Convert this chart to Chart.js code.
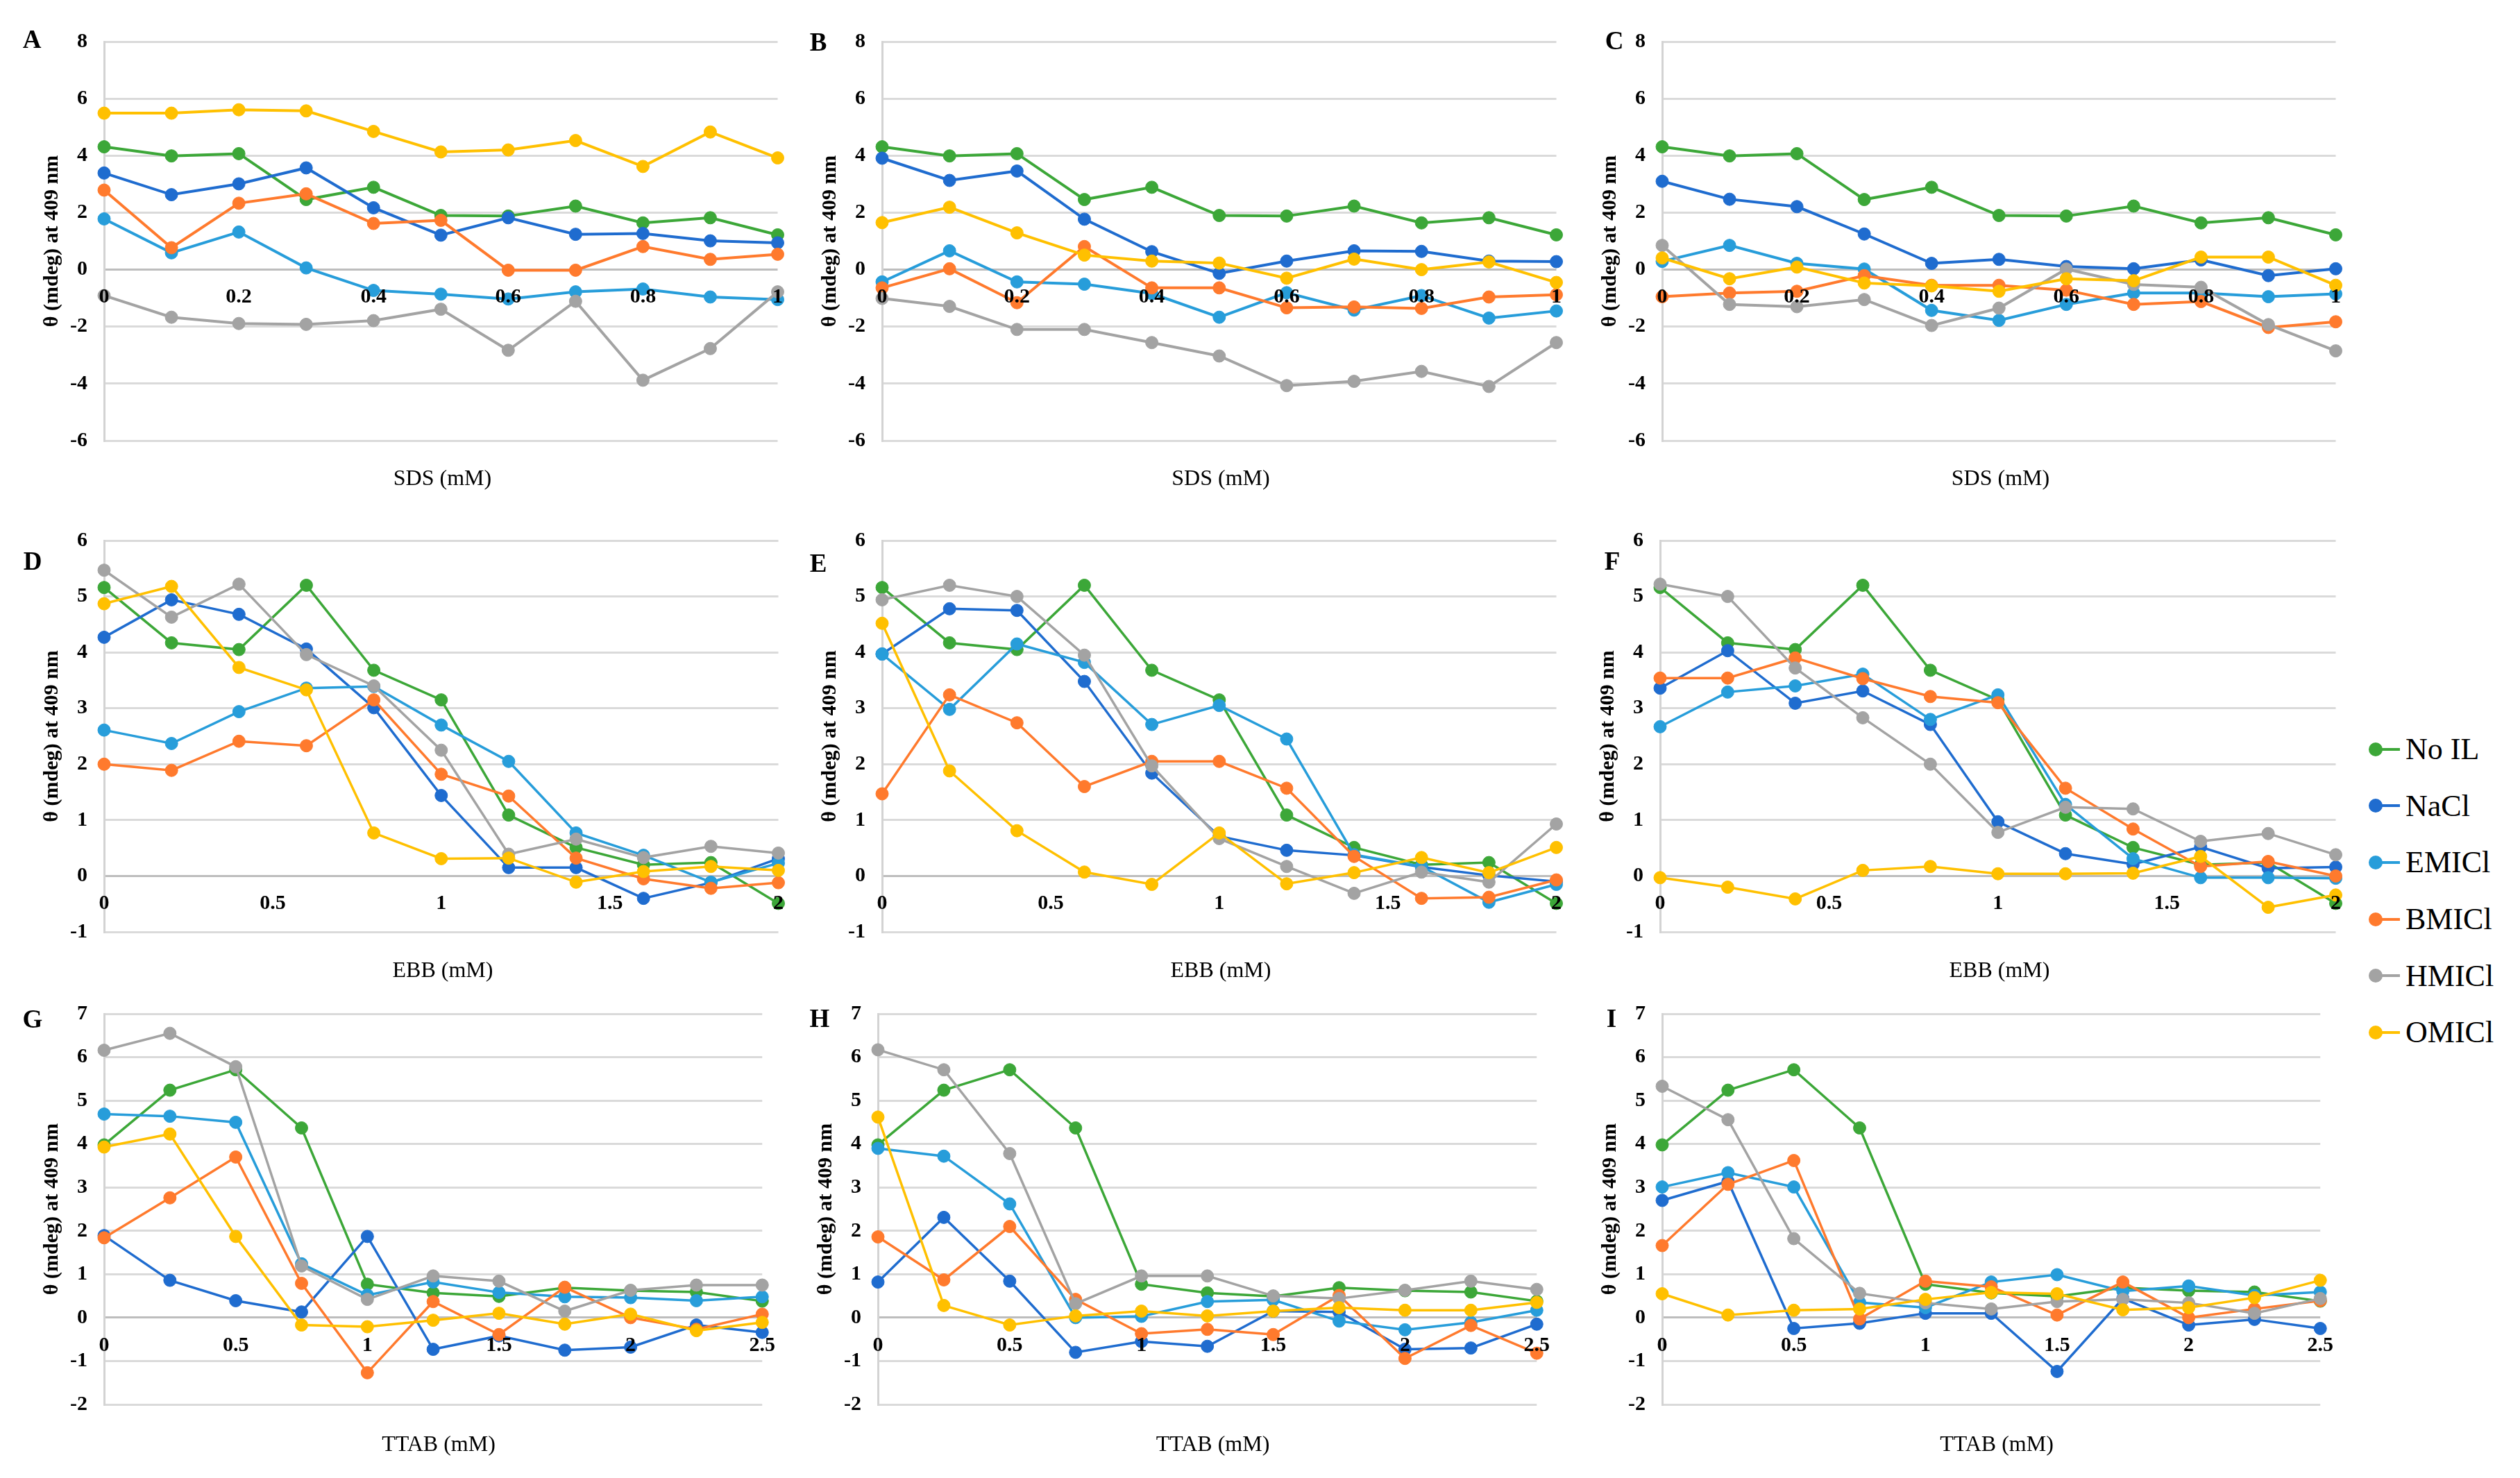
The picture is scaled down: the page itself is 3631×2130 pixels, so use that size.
<!DOCTYPE html>
<html>
<head>
<meta charset="utf-8">
<script src="https://cdn.jsdelivr.net/npm/chart.js@4.4.1/dist/chart.umd.min.js"></script>
<style>
  body { margin: 0; width: 3631px; height: 2130px; background: #fff; position: relative; overflow: hidden;
         font-family: "Liberation Serif", "Times New Roman", serif; color: #000; }
  .panel { position: absolute; }
  .letter { position: absolute; font-size: 37px; font-weight: bold; line-height: 1; transform: translate(-50%, -50%); }
  .xtitle { position: absolute; font-size: 32px; line-height: 1; white-space: nowrap; transform: translate(-50%, -50%); }
  #legend { position: absolute; left: 3413px; top: 1039px; }
  .item { height: 81.6px; display: flex; align-items: center; font-size: 44px; }
  .sym { position: relative; width: 46px; height: 20px; margin-right: 7px; }
  .sym .ln { position: absolute; left: 10px; top: 8px; width: 35px; height: 4px; }
  .sym .dot { position: absolute; left: 0; top: 0; width: 20px; height: 20px; border-radius: 50%; }
</style>
</head>
<body>
<div id="legend"></div>
<script>
// concentrations (x values)
const sdsConc = [0, 0.1, 0.2, 0.3, 0.4, 0.5, 0.6, 0.7, 0.8, 0.9, 1];
const ebbConc = [0, 0.2, 0.4, 0.6, 0.8, 1, 1.2, 1.4, 1.6, 1.8, 2];
const ttabConc = [0, 0.25, 0.5, 0.75, 1, 1.25, 1.5, 1.75, 2, 2.25, 2.5];

const seriesNames = ["No IL", "NaCl", "EMICl", "BMICl", "HMICl", "OMICl"];
const seriesColors = ["#3CA738", "#1F6CCF", "#279DDA", "#FF7A2D", "#A3A3A3", "#FFC000"];

// control without additive, same in every panel of a row
const noIL_SDS = [4.31, 3.99, 4.07, 2.46, 2.89, 1.9, 1.88, 2.23, 1.64, 1.82, 1.22];
const noIL_EBB = [5.16, 4.17, 4.05, 5.2, 3.68, 3.15, 1.09, 0.51, 0.2, 0.24, -0.49];
const noIL_TTAB = [3.98, 5.24, 5.71, 4.37, 0.77, 0.57, 0.49, 0.69, 0.62, 0.59, 0.38];

// order in each panel: No IL, NaCl, EMICl, BMICl, HMICl, OMICl
const panelA = [
  noIL_SDS,
  [3.39, 2.63, 3.01, 3.57, 2.17, 1.21, 1.82, 1.24, 1.27, 1.01, 0.94],
  [1.78, 0.59, 1.32, 0.06, -0.73, -0.86, -1.03, -0.78, -0.68, -0.96, -1.05],
  [2.79, 0.77, 2.33, 2.66, 1.62, 1.73, -0.02, -0.02, 0.81, 0.36, 0.54],
  [-0.91, -1.67, -1.89, -1.92, -1.79, -1.39, -2.83, -1.11, -3.88, -2.77, -0.78],
  [5.49, 5.49, 5.61, 5.57, 4.85, 4.13, 4.2, 4.53, 3.62, 4.83, 3.92]
];
const panelB = [
  noIL_SDS,
  [3.91, 3.13, 3.46, 1.77, 0.63, -0.13, 0.3, 0.66, 0.64, 0.3, 0.28],
  [-0.43, 0.66, -0.43, -0.51, -0.84, -1.67, -0.81, -1.42, -0.91, -1.7, -1.45],
  [-0.64, 0.03, -1.16, 0.81, -0.64, -0.64, -1.34, -1.31, -1.36, -0.96, -0.88],
  [-1.01, -1.29, -2.1, -2.1, -2.56, -3.03, -4.07, -3.92, -3.57, -4.1, -2.56],
  [1.65, 2.19, 1.29, 0.51, 0.3, 0.23, -0.3, 0.37, 0, 0.27, -0.45]
];
const panelC = [
  noIL_SDS,
  [3.1, 2.47, 2.21, 1.25, 0.22, 0.36, 0.11, 0.03, 0.34, -0.21, 0.03],
  [0.29, 0.85, 0.22, 0.02, -1.43, -1.78, -1.22, -0.82, -0.82, -0.95, -0.85],
  [-0.95, -0.82, -0.76, -0.21, -0.55, -0.55, -0.72, -1.22, -1.12, -2.03, -1.83],
  [0.85, -1.22, -1.3, -1.05, -1.96, -1.35, 0.02, -0.52, -0.62, -1.93, -2.85],
  [0.41, -0.32, 0.09, -0.47, -0.57, -0.76, -0.32, -0.39, 0.44, 0.44, -0.55]
];
const panelD = [
  noIL_EBB,
  [4.27, 4.94, 4.68, 4.06, 3.01, 1.44, 0.15, 0.15, -0.4, -0.12, 0.31],
  [2.61, 2.37, 2.94, 3.36, 3.39, 2.7, 2.05, 0.77, 0.37, -0.11, 0.23],
  [2.0, 1.89, 2.41, 2.33, 3.15, 1.82, 1.43, 0.32, -0.05, -0.22, -0.12],
  [5.47, 4.63, 5.22, 3.96, 3.4, 2.25, 0.39, 0.66, 0.33, 0.53, 0.41],
  [4.87, 5.18, 3.73, 3.33, 0.77, 0.31, 0.32, -0.11, 0.08, 0.17, 0.1]
];
const panelE = [
  noIL_EBB,
  [3.97, 4.78, 4.75, 3.48, 1.84, 0.71, 0.46, 0.37, 0.16, 0.01, -0.1],
  [3.97, 2.98, 4.15, 3.82, 2.71, 3.05, 2.45, 0.38, 0.17, -0.47, -0.15],
  [1.47, 3.24, 2.74, 1.6, 2.05, 2.05, 1.57, 0.35, -0.4, -0.38, -0.07],
  [4.94, 5.2, 5.0, 3.95, 1.97, 0.67, 0.17, -0.31, 0.07, -0.11, 0.93],
  [4.52, 1.88, 0.81, 0.07, -0.15, 0.77, -0.14, 0.06, 0.33, 0.06, 0.51]
];
const panelF = [
  noIL_EBB,
  [3.36, 4.03, 3.09, 3.31, 2.71, 0.97, 0.4, 0.21, 0.52, 0.14, 0.16],
  [2.67, 3.29, 3.4, 3.61, 2.8, 3.24, 1.28, 0.31, -0.03, -0.03, -0.04],
  [3.54, 3.54, 3.9, 3.53, 3.21, 3.1, 1.57, 0.84, 0.17, 0.26, 0.0],
  [5.22, 5.0, 3.72, 2.83, 2.0, 0.78, 1.23, 1.2, 0.62, 0.76, 0.38],
  [-0.03, -0.2, -0.41, 0.1, 0.17, 0.04, 0.04, 0.05, 0.35, -0.56, -0.34]
];
const panelG = [
  noIL_TTAB,
  [1.89, 0.86, 0.39, 0.13, 1.87, -0.73, -0.42, -0.75, -0.68, -0.17, -0.34],
  [4.69, 4.64, 4.5, 1.24, 0.52, 0.82, 0.58, 0.48, 0.46, 0.39, 0.48],
  [1.84, 2.76, 3.7, 0.79, -1.27, 0.37, -0.39, 0.7, 0, -0.27, 0.08],
  [6.16, 6.55, 5.78, 1.19, 0.42, 0.96, 0.84, 0.15, 0.63, 0.75, 0.75],
  [3.93, 4.23, 1.87, -0.17, -0.21, -0.06, 0.1, -0.15, 0.08, -0.3, -0.11]
];
const panelH = [
  noIL_TTAB,
  [0.82, 2.31, 0.84, -0.8, -0.55, -0.66, 0.15, 0.13, -0.73, -0.7, -0.15],
  [3.9, 3.72, 2.62, 0, 0.03, 0.37, 0.41, -0.08, -0.28, -0.11, 0.17],
  [1.86, 0.87, 2.1, 0.42, -0.37, -0.27, -0.39, 0.51, -0.94, -0.18, -0.82],
  [6.17, 5.71, 3.78, 0.32, 0.96, 0.96, 0.5, 0.44, 0.63, 0.84, 0.65],
  [4.62, 0.28, -0.17, 0.04, 0.15, 0.04, 0.15, 0.23, 0.17, 0.17, 0.35]
];
const panelI = [
  noIL_TTAB,
  [2.7, 3.14, -0.25, -0.13, 0.1, 0.1, -1.24, 0.44, -0.17, -0.04, -0.25],
  [3.01, 3.34, 3.01, 0.35, 0.23, 0.82, 0.99, 0.61, 0.73, 0.51, 0.59],
  [1.66, 3.07, 3.62, -0.03, 0.84, 0.71, 0.06, 0.82, 0, 0.2, 0.39],
  [5.33, 4.56, 1.82, 0.56, 0.34, 0.2, 0.37, 0.42, 0.34, 0.1, 0.44],
  [0.55, 0.06, 0.17, 0.2, 0.42, 0.58, 0.55, 0.18, 0.23, 0.46, 0.86]
];

// layout of the three rows (pixels on the page)
const rows = [
  { top: 43, bottom: 662, left: [150, 1271, 2395], right: [1125, 2247, 3370],
    yMin: -6, yMax: 8, yStep: 2, xMax: 1, xStep: 0.2, lw: 4, titleY: 688 },
  { top: 762, bottom: 1370, left: [150, 1271, 2392], right: [1126, 2247, 3370],
    yMin: -1, yMax: 6, yStep: 1, xMax: 2, xStep: 0.5, lw: 3.5, titleY: 1397 },
  { top: 1444, bottom: 2051, left: [150, 1265, 2395], right: [1114, 2230, 3359],
    yMin: -2, yMax: 7, yStep: 1, xMax: 2.5, xStep: 0.5, lw: 3.5, titleY: 2080 }
];
const letterPos = [[46, 56], [1179, 60], [2326, 58], [47, 808], [1179, 811], [2323, 808], [47, 1468], [1181, 1467], [2322, 1467]];

const panels = [
  { letter: "A", row: 0, col: 0, conc: sdsConc, ys: panelA, xTitle: "SDS (mM)" },
  { letter: "B", row: 0, col: 1, conc: sdsConc, ys: panelB, xTitle: "SDS (mM)" },
  { letter: "C", row: 0, col: 2, conc: sdsConc, ys: panelC, xTitle: "SDS (mM)" },
  { letter: "D", row: 1, col: 0, conc: ebbConc, ys: panelD, xTitle: "EBB (mM)" },
  { letter: "E", row: 1, col: 1, conc: ebbConc, ys: panelE, xTitle: "EBB (mM)" },
  { letter: "F", row: 1, col: 2, conc: ebbConc, ys: panelF, xTitle: "EBB (mM)" },
  { letter: "G", row: 2, col: 0, conc: ttabConc, ys: panelG, xTitle: "TTAB (mM)" },
  { letter: "H", row: 2, col: 1, conc: ttabConc, ys: panelH, xTitle: "TTAB (mM)" },
  { letter: "I", row: 2, col: 2, conc: ttabConc, ys: panelI, xTitle: "TTAB (mM)" }
];

const AXIS_W = 110, PAD_T = 25, PAD_R = 25, PAD_B = 15;
const tickFont = { family: "Liberation Serif", size: 30, weight: "bold" };

function fmt(v) {
  return String(Math.round(v * 100) / 100);
}

panels.forEach(function (p, idx) {
  const r = rows[p.row];
  const plotL = r.left[p.col], plotR = r.right[p.col];
  const w = plotR - plotL + AXIS_W + PAD_R;
  const h = r.bottom - r.top + PAD_T + PAD_B;

  const box = document.createElement("div");
  box.className = "panel";
  box.style.left = (plotL - AXIS_W) + "px";
  box.style.top = (r.top - PAD_T) + "px";
  const cv = document.createElement("canvas");
  cv.width = w;
  cv.height = h;
  box.appendChild(cv);
  document.body.appendChild(box);

  const lt = document.createElement("div");
  lt.className = "letter";
  lt.textContent = p.letter;
  lt.style.left = letterPos[idx][0] + "px";
  lt.style.top = letterPos[idx][1] + "px";
  document.body.appendChild(lt);

  const xt = document.createElement("div");
  xt.className = "xtitle";
  xt.textContent = p.xTitle;
  xt.style.left = ((plotL + plotR) / 2) + "px";
  xt.style.top = r.titleY + "px";
  document.body.appendChild(xt);

  const datasets = p.ys.map(function (vals, i) {
    return {
      label: seriesNames[i],
      data: vals.map(function (v, k) { return { x: p.conc[k], y: v }; }),
      borderColor: seriesColors[i],
      backgroundColor: seriesColors[i],
      borderWidth: r.lw,
      pointRadius: 9,
      pointBorderWidth: 1,
      pointBackgroundColor: seriesColors[i],
      pointBorderColor: seriesColors[i],
      tension: 0,
      clip: false,
      order: seriesNames.length - i
    };
  });

  new Chart(cv, {
    type: "line",
    data: { datasets: datasets },
    options: {
      responsive: false,
      devicePixelRatio: 1,
      animation: false,
      layout: { padding: { left: 0, top: PAD_T, right: PAD_R, bottom: PAD_B } },
      plugins: { legend: { display: false }, tooltip: { enabled: false } },
      scales: {
        x: {
          type: "linear",
          position: { y: 0 },
          min: 0,
          max: r.xMax,
          grid: { display: false, drawTicks: false },
          border: { display: false },
          // labels sit on the zero line, drawn over the series like the original
          ticks: { z: 1, stepSize: r.xStep, autoSkip: false, maxRotation: 0, padding: 22, color: "#000",
                   font: tickFont, callback: fmt }
        },
        y: {
          min: r.yMin,
          max: r.yMax,
          grid: {
            color: function (c) { return c.tick && c.tick.value === 0 ? "#BDBDBD" : "#DADADA"; },
            lineWidth: 3,
            drawTicks: false
          },
          border: { display: true, color: "#D3D3D3", width: 3 },
          ticks: { stepSize: r.yStep, padding: 24, color: "#000", font: tickFont, callback: fmt },
          title: {
            display: true,
            text: "θ (mdeg) at 409 nm",
            color: "#000",
            font: { family: "Liberation Serif", size: 30, weight: "bold" },
            padding: { top: 17, bottom: 0 }
          },
          afterFit: function (s) { s.width = AXIS_W; }
        }
      }
    }
  });
});

// legend at right
const legend = document.getElementById("legend");
seriesNames.forEach(function (name, i) {
  const item = document.createElement("div");
  item.className = "item";
  item.innerHTML = '<span class="sym"><i class="ln" style="background:' + seriesColors[i] +
    '"></i><i class="dot" style="background:' + seriesColors[i] + '"></i></span>' + name;
  legend.appendChild(item);
});
</script>
</body>
</html>
